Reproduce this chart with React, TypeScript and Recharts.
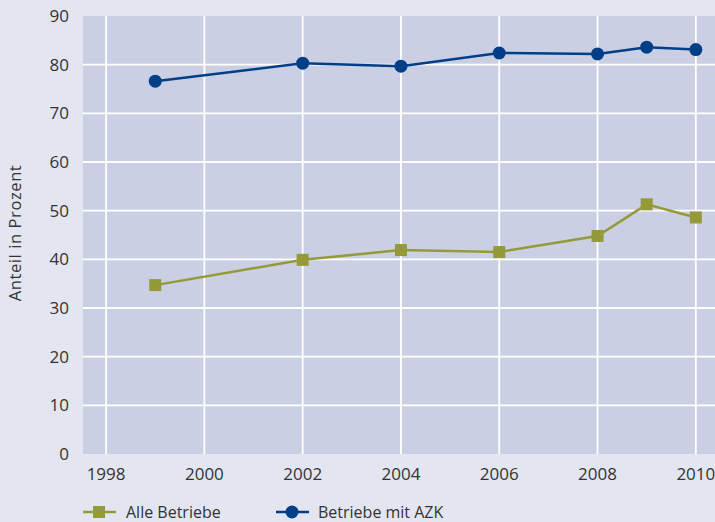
import { LineChart, Line, XAxis, YAxis, CartesianGrid } from 'recharts';

const YEARS = [1999, 2002, 2004, 2006, 2008, 2009, 2010];
const ALLE_BETRIEBE = [34.7, 39.9, 41.9, 41.5, 44.8, 51.3, 48.6];
const BETRIEBE_AZK = [76.6, 80.3, 79.7, 82.4, 82.2, 83.6, 83.1];
const X_TICKS = [1998, 2000, 2002, 2004, 2006, 2008, 2010];
const Y_TICKS = [0, 10, 20, 30, 40, 50, 60, 70, 80, 90];

const BLUE = '#003f87';
const OLIVE = '#959a38';
const TEXT = '#333333';
const FONT = '"Open Sans", sans-serif';

const data = YEARS.map((year, i) => ({
  year,
  alle: ALLE_BETRIEBE[i],
  azk: BETRIEBE_AZK[i],
}));

function SquareDot(props: any) {
  const { cx, cy, index } = props;
  if (cx == null || cy == null) return null;
  return <rect key={index} x={cx - 6} y={cy - 6} width={12} height={12} fill={OLIVE} />;
}

function YLabel() {
  return (
    <text
      x={21}
      y={233}
      transform="rotate(-90 21 233)"
      textAnchor="middle"
      fontSize={16.5}
      letterSpacing={0.6}
      fill={TEXT}
      fontFamily={FONT}
    >
      Anteil in Prozent
    </text>
  );
}

export default function App() {
  return (
    <div
      style={{
        position: 'absolute',
        left: 0,
        top: 0,
        width: 715,
        height: 522,
        background: '#e3e5f1',
        fontFamily: FONT,
      }}
    >
      <LineChart
        width={715}
        height={522}
        data={data}
        margin={{ top: 16, right: 0, bottom: 38, left: 0 }}
      >
        <CartesianGrid
          fill="#cacfe3"
          stroke="#ffffff"
          strokeWidth={1.8}
          horizontalValues={[10, 20, 30, 40, 50, 60, 70, 80]}
          verticalValues={X_TICKS}
        />
        <XAxis
          type="number"
          dataKey="year"
          domain={[1997.53, 2010.39]}
          ticks={X_TICKS}
          allowDataOverflow
          axisLine={false}
          tickLine={false}
          tickMargin={8}
          height={30}
          tick={{ fontSize: 17, fill: TEXT, fontFamily: FONT }}
        />
        <YAxis
          type="number"
          domain={[0, 90]}
          ticks={Y_TICKS}
          width={83}
          axisLine={false}
          tickLine={false}
          tickMargin={8}
          tick={{ fontSize: 17, fill: TEXT, fontFamily: FONT }}
          label={<YLabel />}
        />
        <Line
          dataKey="alle"
          stroke={OLIVE}
          strokeWidth={2.5}
          dot={<SquareDot />}
          isAnimationActive={false}
        />
        <Line
          dataKey="azk"
          stroke={BLUE}
          strokeWidth={2.5}
          dot={{ r: 6.5, fill: BLUE, stroke: BLUE, strokeWidth: 0 }}
          isAnimationActive={false}
        />
      </LineChart>
      <svg
        width={715}
        height={30}
        style={{ position: 'absolute', left: 0, top: 498 }}
      >
        <line x1={83} x2={116} y1={14} y2={14} stroke={OLIVE} strokeWidth={2.5} />
        <rect x={93} y={8} width={12} height={12} fill={OLIVE} />
        <text x={126} y={20} fontSize={16} fill={TEXT} fontFamily={FONT}>
          Alle Betriebe
        </text>
        <line x1={276} x2={309} y1={14} y2={14} stroke={BLUE} strokeWidth={2.5} />
        <circle cx={292} cy={14} r={6.5} fill={BLUE} />
        <text x={318} y={20} fontSize={16} fill={TEXT} fontFamily={FONT}>
          Betriebe mit AZK
        </text>
      </svg>
    </div>
  );
}
